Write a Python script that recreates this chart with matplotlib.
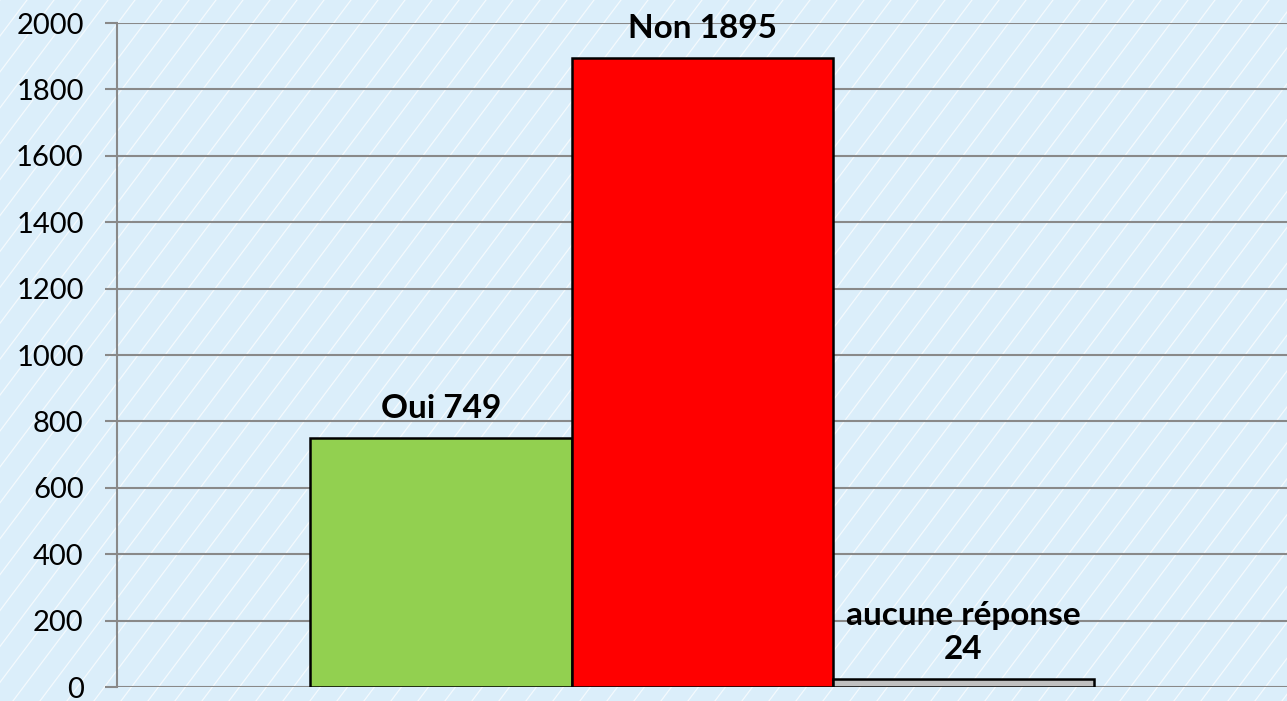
import numpy as np
import matplotlib
matplotlib.use('Agg')
import matplotlib.pyplot as plt
from matplotlib.lines import Line2D

plt.rcParams['font.family'] = ['Lato', 'DejaVu Sans']

# data
series = ['Oui', 'Non', 'aucune réponse']
values = [749, 1895, 24]
labels = ['Oui 749', 'Non 1895', 'aucune réponse\n24']
colors = ['#92d050', '#ff0000', '#c0c0c0']
yticks = [0, 200, 400, 600, 800, 1000, 1200, 1400, 1600, 1800, 2000]

W, H = 1287, 701
fig = plt.figure(figsize=(W / 100, H / 100), dpi=100)
fig.patch.set_facecolor('#dbeefa')

# diagonal white stripes across the whole background
slope = 1.33
step = 27
for x0 in np.arange(-H / slope, W + step, step):
    fig.add_artist(Line2D([x0 / W, (x0 + H / slope) / W], [0, 1],
                          transform=fig.transFigure, color='white',
                          lw=0.9, alpha=0.7, zorder=0))

ax = fig.add_axes([117 / W, 14 / H, 1 - 117 / W, (687 - 23) / H])
ax.set_facecolor('none')

width = 261 / 1170
offsets = [-width, 0, width]
for off, v, c, lab in zip(offsets, values, colors, labels):
    ax.bar(off, v, width=width, color=c, edgecolor='black', linewidth=1.8, zorder=3)
    ax.annotate(lab, (off, v), xytext=(0, 11), textcoords='offset points',
                ha='center', va='bottom', fontsize=24, fontweight='bold',
                linespacing=1.2, zorder=4, annotation_clip=False)

ax.set_xlim(-0.5, 0.5)
ax.set_ylim(0, 2000)
ax.set_yticks(yticks)
ax.set_xticks([])
ax.tick_params(axis='y', labelsize=21, length=9, width=1.5, color='#898989', pad=15)
ax.yaxis.grid(True, color='#898989', linewidth=1.5, zorder=1)
ax.set_axisbelow(True)
for s in ['top', 'right', 'bottom']:
    ax.spines[s].set_visible(False)
ax.spines['left'].set_color('#898989')
ax.spines['left'].set_linewidth(1.5)

fig.savefig('out.png', dpi=100, facecolor=fig.get_facecolor())
